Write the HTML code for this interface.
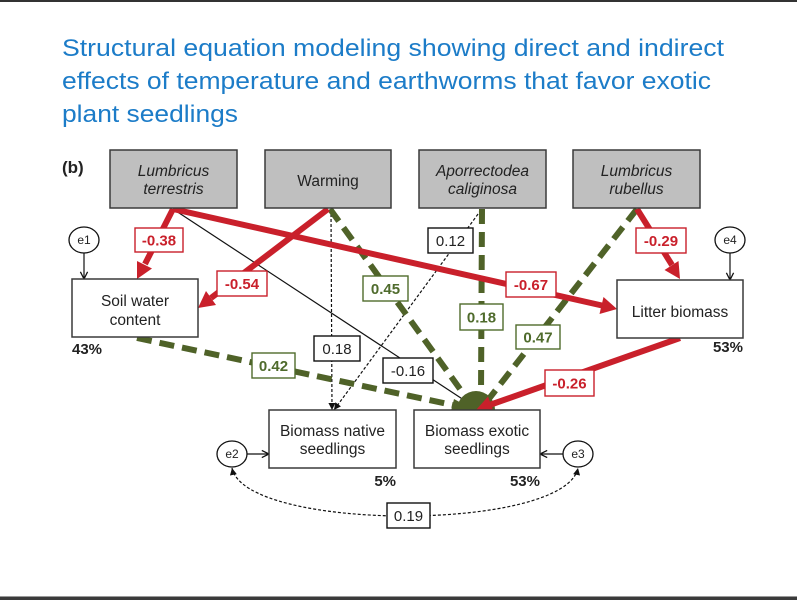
<!DOCTYPE html>
<html><head><meta charset="utf-8"><style>
html,body{margin:0;padding:0;background:#fff;}
svg{display:block;}
text{font-family:"Liberation Sans",Arial,sans-serif;}
</style></head><body>
<svg width="797" height="600" viewBox="0 0 797 600" xmlns="http://www.w3.org/2000/svg">
<defs>
<marker id="ah" viewBox="0 0 10 10" refX="10" refY="5" markerWidth="8" markerHeight="7" markerUnits="userSpaceOnUse" orient="auto"><path d="M0,0 L10,5 L0,10 z" fill="#111"/></marker>
<marker id="ah2" viewBox="0 0 10 10" refX="10" refY="5" markerWidth="8" markerHeight="7" markerUnits="userSpaceOnUse" orient="auto-start-reverse"><path d="M0,0 L10,5 L0,10 z" fill="#111"/></marker>
<marker id="oh" viewBox="0 0 10 10" refX="9" refY="5" markerWidth="9" markerHeight="9" markerUnits="userSpaceOnUse" orient="auto"><path d="M1,1 L9,5 L1,9" fill="none" stroke="#111" stroke-width="1.4"/></marker>
</defs>
<rect x="0" y="0" width="797" height="600" fill="#fff"/>
<rect x="0" y="0" width="797" height="2" fill="#333"/>
<rect x="0" y="596" width="797" height="1" fill="#999"/>
<rect x="0" y="597" width="797" height="3" fill="#3a3a3a"/>

<!-- Title -->
<g fill="#1c7cc8" font-size="24.5">
<text x="62" y="56" textLength="662" lengthAdjust="spacingAndGlyphs">Structural equation modeling showing direct and indirect</text>
<text x="62" y="89" textLength="649" lengthAdjust="spacingAndGlyphs">effects of temperature and earthworms that favor exotic</text>
<text x="62" y="122" textLength="176" lengthAdjust="spacingAndGlyphs">plant seedlings</text>
</g>

<text x="62" y="173" font-size="17" font-weight="bold" fill="#222">(b)</text>

<!-- thin black lines -->
<line x1="173" y1="209" x2="470" y2="404" stroke="#111" stroke-width="1.2"/>
<line x1="331" y1="209" x2="332" y2="410" stroke="#111" stroke-width="1.2" stroke-dasharray="3 2" marker-end="url(#ah)"/>
<line x1="481" y1="210" x2="334" y2="410" stroke="#111" stroke-width="1.2" stroke-dasharray="3 2" marker-end="url(#ah)"/>

<!-- green dashed -->
<g stroke="#4f6228" stroke-width="6" stroke-dasharray="15 8" fill="none">
<line x1="330" y1="209" x2="468" y2="400"/>
<line x1="482" y1="209" x2="481" y2="395"/>
<line x1="637" y1="209" x2="488" y2="400"/>
<line x1="137" y1="338" x2="462" y2="407"/>
</g>
<polygon points="476,411 454,399 451,411" fill="#4f6228"/>
<path d="M457 410 A19 19 0 0 1 495 410 Z" fill="#4f6228"/>

<!-- red thick -->
<g stroke="#c9202b" stroke-width="6" fill="none">
<line x1="173" y1="209" x2="145" y2="264"/>
<line x1="328" y1="209" x2="211" y2="298"/>
<line x1="173" y1="209" x2="602" y2="305.5"/>
<line x1="637" y1="209" x2="672" y2="265"/>
<line x1="680" y1="338" x2="491" y2="404.5"/>
</g>
<g fill="#c9202b">
<polygon points="137,279 152,268.5 137,261"/>
<polygon points="198,308 216,305 206,291"/>
<polygon points="617,309 599.5,314 603.5,297"/>
<polygon points="680,279 664.5,270 678.5,261"/>
<polygon points="476,410 494,412.5 488,396.5"/>
</g>

<!-- e circles -->
<g fill="#fff" stroke="#111" stroke-width="1.3">
<ellipse cx="84" cy="240" rx="15" ry="13"/>
<ellipse cx="730" cy="240" rx="15" ry="13"/>
<ellipse cx="232" cy="454" rx="15" ry="13"/>
<ellipse cx="578" cy="454" rx="15" ry="13"/>
</g>
<g font-size="12" fill="#222" text-anchor="middle">
<text x="84" y="244">e1</text>
<text x="730" y="244">e4</text>
<text x="232" y="458">e2</text>
<text x="578" y="458">e3</text>
</g>
<g stroke="#111" stroke-width="1.2" fill="none">
<line x1="84" y1="253" x2="84" y2="279" marker-end="url(#oh)"/>
<line x1="730" y1="253" x2="730" y2="280" marker-end="url(#oh)"/>
<line x1="247" y1="454" x2="269" y2="454" marker-end="url(#oh)"/>
<line x1="563" y1="454" x2="540" y2="454" marker-end="url(#oh)"/>
<path d="M232 468 C245 532, 565 532, 578 468" stroke-dasharray="3 2" marker-start="url(#ah2)" marker-end="url(#ah2)"/>
</g>

<!-- Boxes -->
<g stroke="#3a3a3a" stroke-width="1.5">
<rect x="110" y="150" width="127" height="58" fill="#bfbfbf"/>
<rect x="265" y="150" width="126" height="58" fill="#bfbfbf"/>
<rect x="419" y="150" width="127" height="58" fill="#bfbfbf"/>
<rect x="573" y="150" width="127" height="58" fill="#bfbfbf"/>
<rect x="72" y="279" width="126" height="58" fill="#fff"/>
<rect x="617" y="280" width="126" height="58" fill="#fff"/>
<rect x="269" y="410" width="127" height="58" fill="#fff"/>
<rect x="414" y="410" width="126" height="58" fill="#fff"/>
</g>
<g font-size="15.5" fill="#222" text-anchor="middle">
<text x="173.5" y="176" font-style="italic">Lumbricus</text>
<text x="173.5" y="194" font-style="italic">terrestris</text>
<text x="328" y="186">Warming</text>
<text x="482.5" y="176" font-style="italic">Aporrectodea</text>
<text x="482.5" y="194" font-style="italic">caliginosa</text>
<text x="636.5" y="176" font-style="italic">Lumbricus</text>
<text x="636.5" y="194" font-style="italic">rubellus</text>
<text x="135" y="306">Soil water</text>
<text x="135" y="325">content</text>
<text x="680" y="317">Litter biomass</text>
<text x="332.5" y="436">Biomass native</text>
<text x="332.5" y="454">seedlings</text>
<text x="477" y="436">Biomass exotic</text>
<text x="477" y="454">seedlings</text>
</g>
<g font-size="15" font-weight="bold" fill="#222">
<text x="72" y="354">43%</text>
<text x="743" y="352" text-anchor="end">53%</text>
<text x="396" y="486" text-anchor="end">5%</text>
<text x="540" y="486" text-anchor="end">53%</text>
</g>

<!-- Labels -->
<g fill="#fff" stroke-width="1.4">
<rect x="135" y="228" width="48" height="24" stroke="#c9202b"/>
<rect x="217" y="271" width="50" height="25" stroke="#c9202b"/>
<rect x="506" y="272" width="50" height="25" stroke="#c9202b"/>
<rect x="636" y="228" width="50" height="25" stroke="#c9202b"/>
<rect x="545" y="370" width="49" height="26" stroke="#c9202b"/>
<rect x="363" y="276" width="45" height="25" stroke="#4f6b2c"/>
<rect x="460" y="304" width="43" height="26" stroke="#4f6b2c"/>
<rect x="516" y="325" width="44" height="24" stroke="#4f6b2c"/>
<rect x="252" y="353" width="43" height="25" stroke="#4f6b2c"/>
<rect x="428" y="228" width="45" height="25" stroke="#111"/>
<rect x="314" y="336" width="46" height="25" stroke="#111"/>
<rect x="383" y="358" width="50" height="25" stroke="#111"/>
<rect x="387" y="503" width="43" height="25" stroke="#111"/>
</g>
<g font-size="15" font-weight="bold" fill="#c9202b" text-anchor="middle">
<text x="159" y="245.5">-0.38</text>
<text x="242" y="289">-0.54</text>
<text x="531" y="290">-0.67</text>
<text x="661" y="246">-0.29</text>
<text x="569.5" y="388.5">-0.26</text>
</g>
<g font-size="15" font-weight="bold" fill="#4f6b2c" text-anchor="middle">
<text x="385.5" y="294">0.45</text>
<text x="481.5" y="322.5">0.18</text>
<text x="538" y="342.5">0.47</text>
<text x="273.5" y="371">0.42</text>
</g>
<g font-size="15" fill="#222" text-anchor="middle">
<text x="450.5" y="246">0.12</text>
<text x="337" y="354">0.18</text>
<text x="408" y="376">-0.16</text>
<text x="408.5" y="521">0.19</text>
</g>
</svg>
</body></html>
